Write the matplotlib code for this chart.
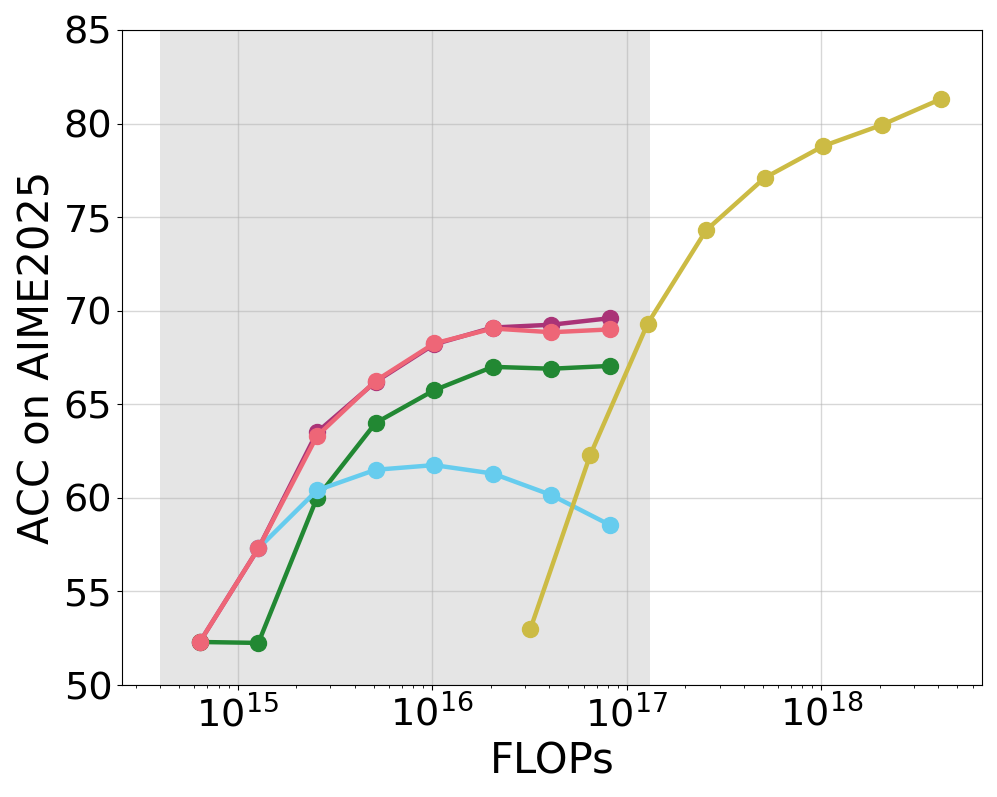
import numpy as np
import matplotlib.pyplot as plt

# FLOPs for the small-model sweeps (doubling budget)
flops_small = [6.4e14, 1.28e15, 2.56e15, 5.12e15, 1.024e16, 2.05e16, 4.1e16, 8.2e16]
acc_purple = [52.3, 57.3, 63.5, 66.2, 68.2, 69.1, 69.25, 69.6]
acc_pink = [52.3, 57.3, 63.3, 66.25, 68.25, 69.05, 68.85, 69.0]
acc_green = [52.3, 52.25, 60.0, 64.0, 65.75, 67.0, 66.9, 67.05]

flops_cyan = [1.28e15, 2.56e15, 5.12e15, 1.024e16, 2.05e16, 4.1e16, 8.2e16]
acc_cyan = [57.3, 60.4, 61.5, 61.75, 61.3, 60.15, 58.55]

# large-model sweep
flops_large = [3.2e16, 6.5e16, 1.28e17, 2.56e17, 5.12e17, 1.024e18, 2.05e18, 4.1e18]
acc_yellow = [53.0, 62.3, 69.3, 74.3, 77.1, 78.8, 79.93, 81.3]

shade_range = (4.0e14, 1.31e17)

fig = plt.figure(figsize=(9.97, 7.97), dpi=100)
ax = fig.add_axes([0.1224, 0.1405, 0.8626, 0.8219])

ax.axvspan(*shade_range, color='gray', alpha=0.2, lw=0, zorder=0)

style = dict(lw=3.2, marker='o', markersize=11.5)
ax.plot(flops_small, acc_purple, color='#AA3377', **style)
ax.plot(flops_small, acc_green, color='#228833', **style)
ax.plot(flops_cyan, acc_cyan, color='#66CCEE', **style)
ax.plot(flops_small, acc_pink, color='#EE6677', **style)
ax.plot(flops_large, acc_yellow, color='#CCBB44', **style)

ax.set_xscale('log')
ax.set_xlim(2.55e14, 6.7e18)
ax.set_ylim(50, 85)
ax.set_yticks(np.arange(50, 86, 5))
ax.grid(True, color='#b0b0b0', alpha=0.5, lw=1)
ax.set_axisbelow(True)

ax.tick_params(axis='both', labelsize=27.5)
ax.set_xlabel('FLOPs', fontsize=30)
ax.set_ylabel('ACC on AIME2025', fontsize=30)

fig.savefig('out.png', dpi=100)
